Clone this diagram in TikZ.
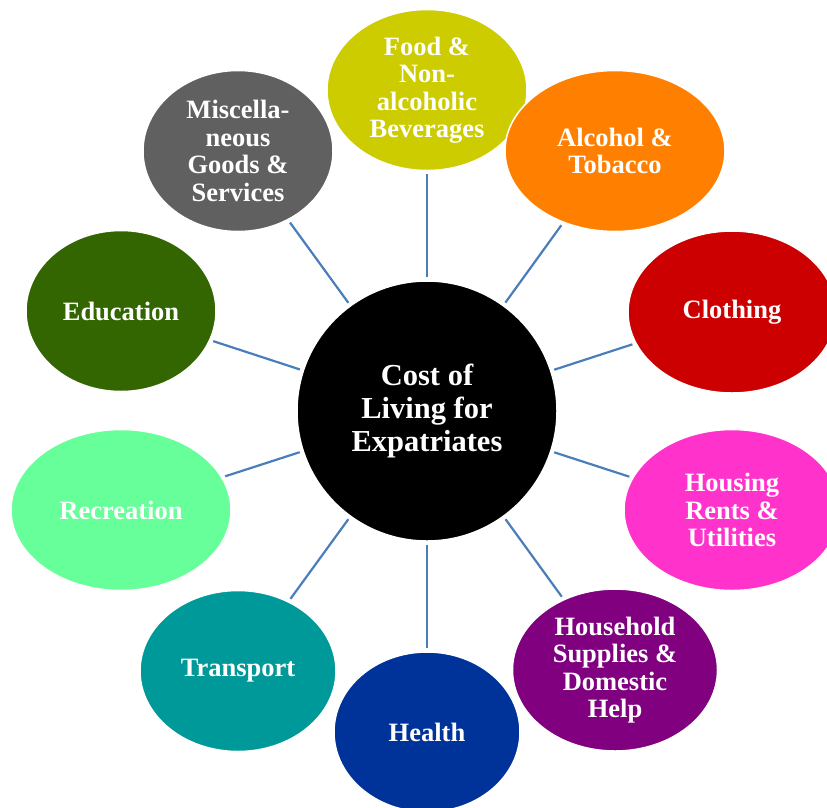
\documentclass[tikz,border=0pt]{standalone}
\usepackage{fontspec}
\setmainfont{Liberation Serif}
\usetikzlibrary{shapes.geometric}
\definecolor{cfood}{HTML}{CCCC00}
\definecolor{calc}{HTML}{FF8000}
\definecolor{ccloth}{HTML}{CC0000}
\definecolor{chouse}{HTML}{FF33CC}
\definecolor{chold}{HTML}{800080}
\definecolor{chealth}{HTML}{003399}
\definecolor{ctrans}{HTML}{009999}
\definecolor{crec}{HTML}{66FF99}
\definecolor{cedu}{HTML}{336600}
\definecolor{cmisc}{HTML}{606060}
\definecolor{cline}{HTML}{4A7EBB}
\tikzset{
  bubble/.style n args={3}{ellipse, fill=#1, draw=white, line width=1.5pt,
    minimum width=#2, minimum height=#3, inner sep=0pt, align=center,
    text=white, font=\fontsize{26.5}{27.5}\selectfont\bfseries},
  hub/.style={ellipse, fill=black, draw=white, line width=1.5pt,
    minimum width=260pt, minimum height=260pt, inner sep=0pt, align=center,
    text=white, font=\fontsize{30.5}{33}\selectfont\bfseries},
  spoke/.style={draw=cline, line width=2.2pt, shorten <=3pt, shorten >=3pt}
}
\begin{document}
\begin{tikzpicture}[x=1pt,y=-1pt]
\useasboundingbox (0,0) rectangle (827,807);
\clip (0,0) rectangle (827,807);
\node[bubble={cfood}{200pt}{161pt}] (food) at (427,90) {Food \&\\Non-\\alcoholic\\Beverages};
\node[bubble={calc}{220pt}{161pt}] (alc) at (615,151) {Alcohol \&\\Tobacco};
\node[bubble={ccloth}{208pt}{162pt}] (cloth) at (732,312) {Clothing};
\node[bubble={chouse}{216pt}{161pt}] (house) at (732,510) {Housing\\Rents \&\\Utilities};
\node[bubble={chold}{205pt}{162pt}] (hold) at (615,670) {Household\\Supplies \&\\Domestic\\Help};
\node[bubble={chealth}{186pt}{160pt}] (health) at (427,732) {Health};
\node[bubble={ctrans}{196pt}{161pt}] (trans) at (238,671) {Transport};
\node[bubble={crec}{220pt}{161pt}] (rec) at (121,510) {Recreation};
\node[bubble={cedu}{190pt}{161pt}] (edu) at (121,311) {Education};
\node[bubble={cmisc}{190pt}{161pt}] (misc) at (238,151) {Miscella-\\neous\\Goods \&\\Services};
\node[hub] (hub) at (427,411) {Cost of\\Living for\\Expatriates};
\foreach \n in {food,alc,cloth,house,hold,health,trans,rec,edu,misc}
  \draw[spoke] (hub) -- (\n);
\end{tikzpicture}
\end{document}
